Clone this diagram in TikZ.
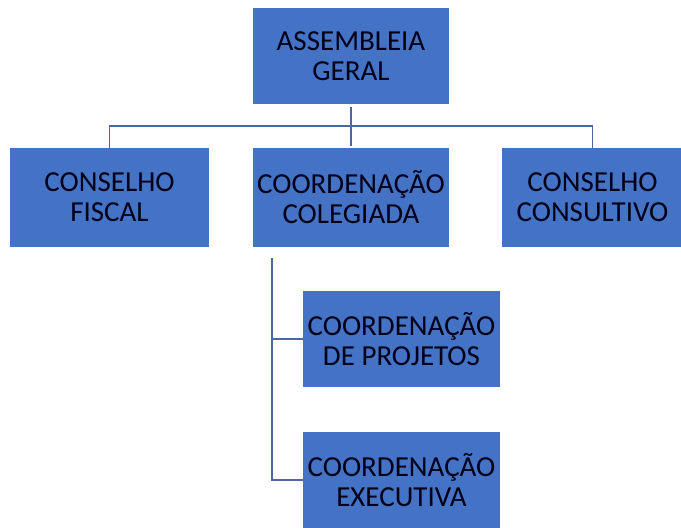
\documentclass[tikz,border=0pt]{standalone}
\usepackage{fontspec}
\setmainfont{Carlito}
\definecolor{boxblue}{HTML}{4472C4}
\definecolor{linkblue}{HTML}{4A6A9F}
\begin{document}
\begin{tikzpicture}[x=1pt,y=-1pt,
  orgbox/.style={fill=boxblue,draw=none,inner sep=0pt,align=center,text=black!90!blue,
    font=\fontsize{29}{30}\selectfont},
  link/.style={draw=linkblue,line width=1.9pt}]
\useasboundingbox (0,0) rectangle (681,528);
\node[orgbox,minimum width=196pt,minimum height=96pt] (ag) at (351,56) {ASSEMBLEIA\\GERAL};
\node[orgbox,minimum width=199pt,minimum height=99pt] (cf) at (109.5,197.5) {CONSELHO\\FISCAL};
\node[orgbox,minimum width=196pt,minimum height=99pt] (cc) at (351,197.5) {COORDENAÇÃO\\COLEGIADA};
\node[orgbox,minimum width=181pt,minimum height=99pt] (cs) at (592.5,197.5) {CONSELHO\\CONSULTIVO};
\node[orgbox,minimum width=197pt,minimum height=96pt] (cp) at (401.5,339) {COORDENAÇÃO\\DE PROJETOS};
\node[orgbox,minimum width=197pt,minimum height=96pt] (ce) at (401.5,480) {COORDENAÇÃO\\EXECUTIVA};
\coordinate (j) at (351,126);
\coordinate (v) at (272,258);
\draw[link] ([yshift=-3pt]ag.south) -- ([yshift=2pt]cc.north);
\draw[link] (cf.north) |- (j) -| (cs.north);
\draw[link] (v) |- (cp.west);
\draw[link] (v) |- (ce.west);
\end{tikzpicture}
\end{document}
